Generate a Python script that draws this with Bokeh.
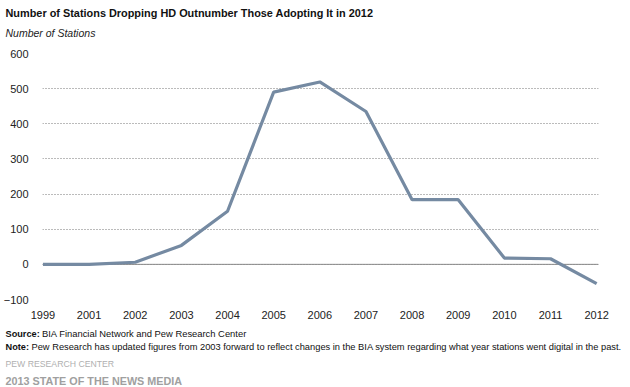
from bokeh.plotting import figure
from bokeh.layouts import column
from bokeh.models import Label, Span, FixedTicker, Range1d, ColumnDataSource
from bokeh.embed import file_html
from bokeh.resources import INLINE

years = ["1999", "2001", "2002", "2003", "2004", "2005", "2006",
         "2007", "2008", "2009", "2010", "2011", "2012"]
stations = [0, 0, 6, 54, 151, 490, 519, 435, 184, 184, 18, 16, -55]
y_ticks = [-100, 0, 100, 200, 300, 400, 500, 600]

title_text = "Number of Stations Dropping HD Outnumber Those Adopting It in 2012"
subtitle_text = "Number of Stations"
source_head, source_body = "Source:", "BIA Financial Network and Pew Research Center"
note_head = "Note:"
note_body = ("Pew Research has updated figures from 2003 forward to reflect changes "
             "in the BIA system regarding what year stations went digital in the past.")
org_text = "PEW RESEARCH CENTER"
report_text = "2013 STATE OF THE NEWS MEDIA"

FONT = "Liberation Sans"
W = 630
HEAD_H, MAIN_H, FOOT_H = 42, 280, 65


def text_panel(height, top):
    """A bare figure whose data coordinates equal page pixels (y grows downward)."""
    f = figure(width=W, height=height, output_backend="svg", toolbar_location=None,
               x_range=Range1d(0, W), y_range=Range1d(top + height, top),
               x_axis_location=None, y_axis_location=None,
               min_border_left=0, min_border_right=0,
               min_border_top=0, min_border_bottom=0, frame_align=False)
    f.outline_line_color = None
    f.grid.visible = False
    f.background_fill_color = "white"
    f.border_fill_color = "white"
    return f


def add_text(f, txt, x, y, size, style="normal", color="#111111", font=FONT):
    f.add_layout(Label(x=x, y=y, text=txt, text_font=font,
                       text_font_size=size, text_font_style=style,
                       text_color=color, text_align="left",
                       text_baseline="middle"))


# ---- header
head = text_panel(HEAD_H, 0)
add_text(head, title_text, 5, 12.5, "10.9px", "bold", "#111111")
add_text(head, subtitle_text, 5, 32, "10.5px", "italic", "#222222")

# ---- main chart
idx = list(range(len(years)))
src = ColumnDataSource(dict(x=idx, y=stations))

p = figure(width=W, height=MAIN_H, output_backend="svg", toolbar_location=None,
           x_range=Range1d(-0.01, len(years) - 1 + 0.04), y_range=Range1d(-100, 600),
           min_border_left=42, min_border_right=32,
           min_border_top=11, min_border_bottom=23, frame_align=False)
p.outline_line_color = None
p.background_fill_color = "white"
p.border_fill_color = "white"

p.add_layout(Span(location=0, dimension="width", line_color="#8a8a8a",
                  line_width=1, level="underlay"))
p.line("x", "y", source=src, line_color="#758aa2", line_width=3.2)

p.xgrid.grid_line_color = None
p.ygrid.grid_line_color = "#777777"
p.ygrid.grid_line_dash = "1 2"
p.ygrid.grid_line_width = 1

p.xaxis.ticker = FixedTicker(ticks=idx)
p.xaxis.major_label_overrides = {i: y for i, y in enumerate(years)}
p.yaxis.ticker = FixedTicker(ticks=y_ticks)
for ax in (p.xaxis, p.yaxis):
    ax.axis_line_color = None
    ax.major_tick_line_color = None
    ax.minor_tick_line_color = None
    ax.major_label_text_font = FONT
    ax.major_label_text_font_size = "11px"
    ax.major_label_text_color = "#222222"
p.xaxis.major_label_standoff = 5
p.yaxis.major_label_standoff = 8

# ---- footer
foot = text_panel(FOOT_H, HEAD_H + MAIN_H)
add_text(foot, source_head, 5, 333, "9.2px", "bold")
add_text(foot, source_body, 41.5, 333, "9.4px")
add_text(foot, note_head, 5, 346.5, "9.2px", "bold")
add_text(foot, note_body, 31, 346.5, "9.3px")
add_text(foot, org_text, 5, 363, "8.7px", "normal", "#b0b0b0")
add_text(foot, report_text, 5, 380, "10.8px", "bold", "#a0a0a0")

layout = column(head, p, foot, spacing=0)
open("out.html", "w").write(file_html(layout, INLINE))
